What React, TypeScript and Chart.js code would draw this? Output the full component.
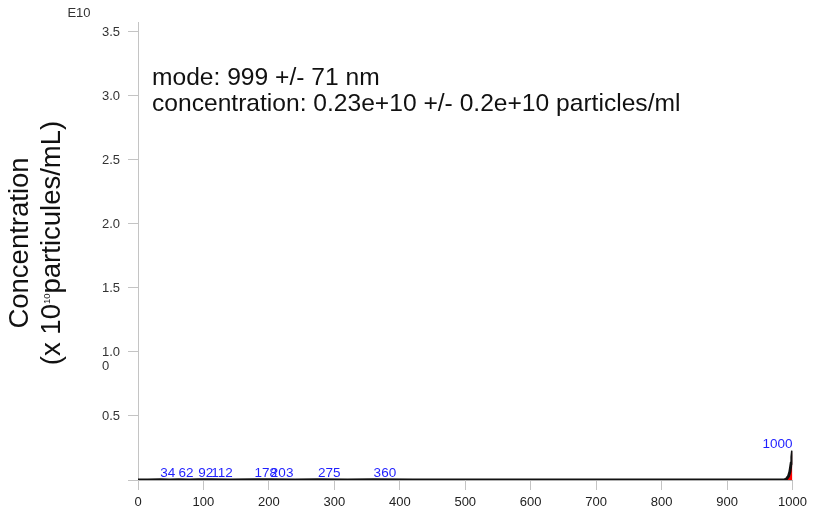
import React, { useEffect, useRef } from "react";
import { Chart, registerables } from "chart.js";

Chart.register(...registerables);

// Particle size (nm) and concentration (x 10^10 particles/mL)
const sizes = [0, 15, 34, 48, 62, 78, 92, 102, 112, 140, 178, 190, 203, 240, 275, 320, 360, 420, 500, 600, 700, 800, 900, 960, 985, 988, 991, 994, 996, 998, 999, 1000];
const concentrations = [0, 0.0005, 0.002, 0.0005, 0.002, 0.0005, 0.002, 0.001, 0.002, 0.0005, 0.002, 0.001, 0.002, 0.0005, 0.002, 0.0005, 0.002, 0.0005, 0, 0, 0, 0, 0, 0, 0.0005, 0.002, 0.01, 0.03, 0.065, 0.13, 0.18, 0.229];

// Labelled peaks
const peakSizes = [34, 62, 92, 112, 178, 203, 275, 360, 1000];
const peakLabels = ["34", "62", "92", "112", "178", "203", "275", "360", "1000"];

// Axis ticks
const yTickValues = [0, 0.5, 1.0, 1.5, 2.0, 2.5, 3.0, 3.5];
const xTickStep = 100;

const annotationLines = [
  "mode: 999 +/- 71 nm",
  "concentration: 0.23e+10 +/- 0.2e+10 particles/ml",
];
const yTitleLine1 = "Concentration";
const yTitleLine2a = "(x 10";
const yTitleSup = "10";
const yTitleLine2b = "particules/mL)";
const exponentLabel = "E10";

const FONT = "'Liberation Sans', Arial, Helvetica, sans-serif";

export default function App() {
  const ref = useRef<HTMLCanvasElement>(null);

  useEffect(() => {
    const canvas = ref.current!;
    const overlay = {
      id: "overlay",
      afterDatasetsDraw(chart: any) {
        const ctx = chart.ctx as CanvasRenderingContext2D;
        const xs = chart.scales.x;
        const ys = chart.scales.y;
        const area = chart.chartArea;
        ctx.save();
        ctx.font = `13.5px ${FONT}`;
        ctx.fillStyle = "#1f1fff";
        ctx.textBaseline = "alphabetic";
        peakSizes.forEach((p, i) => {
          const idx = sizes.indexOf(p);
          const v = idx >= 0 ? concentrations[idx] : 0;
          const px = xs.getPixelForValue(p);
          const py = ys.getPixelForValue(v) - 2.5;
          const w = ctx.measureText(peakLabels[i]).width;
          ctx.textAlign = px + w > area.right + 1 ? "right" : "left";
          ctx.fillText(peakLabels[i], px, py);
        });
        ctx.restore();
      },
      afterDraw(chart: any) {
        const ctx = chart.ctx as CanvasRenderingContext2D;
        const ys = chart.scales.y;
        ctx.save();
        ctx.fillStyle = "#111";
        ctx.font = `24.6px ${FONT}`;
        ctx.textAlign = "left";
        ctx.textBaseline = "alphabetic";
        ctx.fillText(annotationLines[0], 152, 85);
        ctx.fillText(annotationLines[1], 152, 111);

        ctx.fillStyle = "#333";
        ctx.font = `13px ${FONT}`;
        ctx.textAlign = "center";
        ctx.textBaseline = "middle";
        ctx.fillText(exponentLabel, 79, 13);

        ctx.textAlign = "left";
        ctx.fillText("0", 102, ys.getPixelForValue(1.0) + 14);

        ctx.translate(0, 243);
        ctx.rotate(-Math.PI / 2);
        ctx.fillStyle = "#111";
        ctx.textBaseline = "alphabetic";
        ctx.font = `27.5px ${FONT}`;
        ctx.textAlign = "center";
        ctx.fillText(yTitleLine1, 0, 28);
        ctx.textAlign = "left";
        const wa = ctx.measureText(yTitleLine2a).width;
        const wb = ctx.measureText(yTitleLine2b).width;
        ctx.font = `9.5px ${FONT}`;
        const ws = ctx.measureText(yTitleSup).width;
        const total = wa + ws + wb;
        let sx = -total / 2;
        ctx.font = `27.5px ${FONT}`;
        ctx.fillText(yTitleLine2a, sx, 60);
        sx += wa;
        ctx.font = `9.5px ${FONT}`;
        ctx.fillText(yTitleSup, sx, 50);
        sx += ws;
        ctx.font = `27.5px ${FONT}`;
        ctx.fillText(yTitleLine2b, sx, 60);
        ctx.restore();
      },
    };

    const chart = new Chart(canvas, {
      type: "line",
      data: {
        datasets: [
          {
            data: sizes.map((s, i) => ({ x: s, y: concentrations[i] })),
            borderColor: "#111",
            borderWidth: 3,
            backgroundColor: "#ff0000",
            fill: "origin",
            pointRadius: 0,
            tension: 0,
          },
        ],
      },
      options: {
        animation: false,
        responsive: false,
        devicePixelRatio: 1,
        layout: { padding: { left: 0, top: 22, right: 23.5, bottom: 0 } },
        plugins: {
          legend: { display: false },
          tooltip: { enabled: false },
        },
        scales: {
          x: {
            type: "linear",
            min: 0,
            max: 1000,
            afterFit: (s: any) => {
              s.height = 33;
            },
            ticks: {
              stepSize: xTickStep,
              autoSkip: false,
              maxRotation: 0,
              padding: 5,
              color: "#222",
              font: { family: FONT, size: 13 },
              callback: (v: any) => String(v),
            },
            grid: {
              drawOnChartArea: false,
              drawTicks: true,
              tickLength: 10,
              color: "#c4c4c4",
            },
            border: { color: "#b0b0b0", width: 1 },
          },
          y: {
            type: "linear",
            min: 0,
            max: 3.578,
            afterFit: (s: any) => {
              s.width = 138;
            },
            afterBuildTicks: (s: any) => {
              s.ticks = yTickValues.map((v) => ({ value: v }));
            },
            ticks: {
              padding: 8,
              color: "#333",
              font: { family: FONT, size: 13 },
              callback: (v: any) => (Number(v) === 0 ? "" : Number(v).toFixed(1)),
            },
            grid: {
              drawOnChartArea: false,
              drawTicks: true,
              tickLength: 10,
              color: "#c4c4c4",
            },
            border: { color: "#c4c4c4", width: 1 },
          },
        },
      },
      plugins: [overlay],
    } as any);
    return () => chart.destroy();
  }, []);

  return (
    <div style={{ position: "absolute", left: 0, top: 0, width: 816, height: 513, background: "#fff" }}>
      <canvas ref={ref} width={816} height={513} style={{ display: "block", width: 816, height: 513 }} />
    </div>
  );
}
